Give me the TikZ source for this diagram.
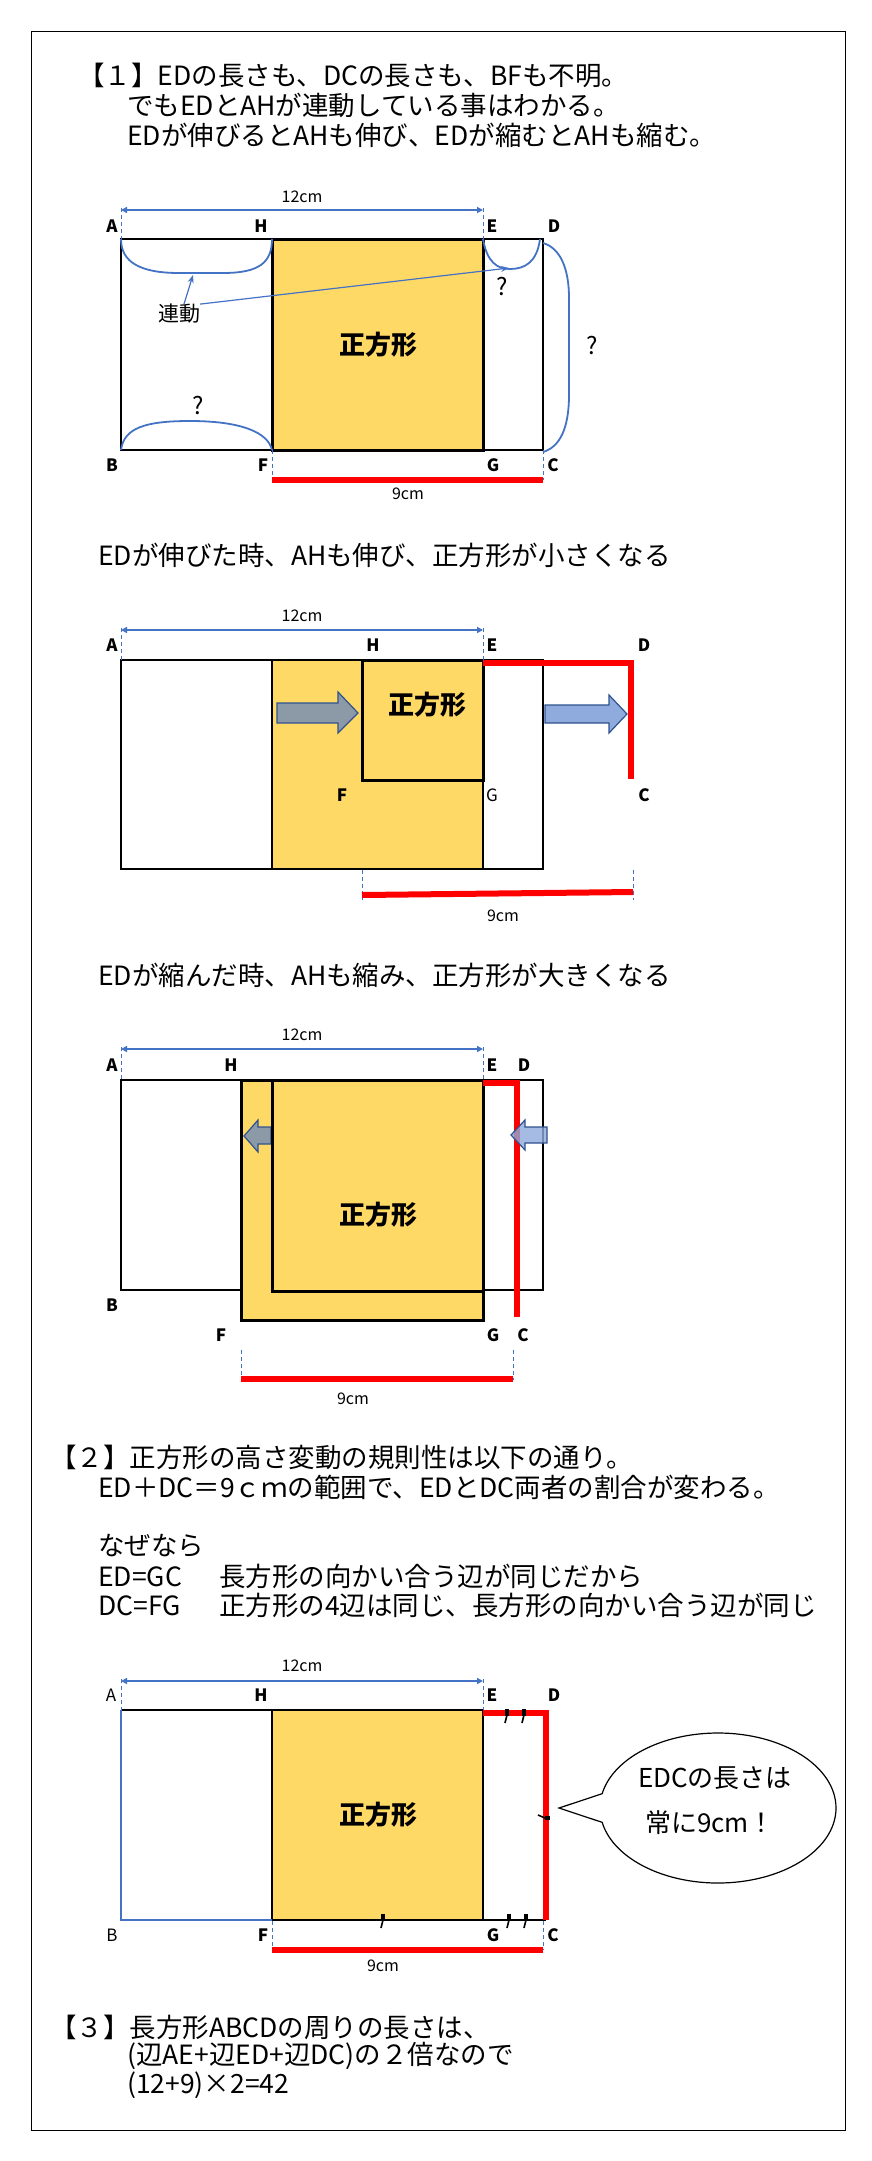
\documentclass[tikz,border=0pt]{standalone}
\usepackage{fontspec}
\setmainfont{Noto Sans CJK JP}
\usetikzlibrary{arrows.meta,shapes.callouts}
\definecolor{blueline}{HTML}{4472C4}
\definecolor{sqyellow}{HTML}{FFD966}
\definecolor{arrowedge}{HTML}{2F528F}
\definecolor{grayfill}{HTML}{8B9AA6}
\definecolor{bluefill}{HTML}{8FAADC}
\begin{document}
\begin{tikzpicture}[x=1pt,y=-1pt,
  txt/.style={anchor=west,inner sep=0pt,font=\fontsize{26.5}{30}\selectfont},
  btxt/.style={inner sep=0pt,font=\fontsize{26}{30}\selectfont},
  lbl/.style={inner sep=0pt,font=\bfseries\fontsize{17}{20}\selectfont},
  lblr/.style={inner sep=0pt,font=\fontsize{17}{20}\selectfont},
  dimtxt/.style={inner sep=0pt,font=\fontsize{16}{18}\selectfont},
  qm/.style={inner sep=0pt,font=\fontsize{24}{26}\selectfont},
  rtxt/.style={inner sep=0pt,font=\fontsize{21}{24}\selectfont},
  sqtxt/.style={inner sep=0pt,font=\bfseries\fontsize{26}{28}\selectfont},
  dimline/.style={draw=blueline,line width=1.8pt,{Triangle[length=6pt,width=6pt]}-{Triangle[length=6pt,width=6pt]}},
  guide/.style={draw=blueline,line width=1pt,dash pattern=on 4pt off 3pt},
  redline/.style={draw=red,line width=6pt},
  rectline/.style={draw=black,line width=2pt},
  sqbox/.style={fill=sqyellow,draw=black,line width=3pt},
  thinsq/.style={fill=sqyellow,draw=black,line width=2pt},
  brace/.style={draw=blueline,line width=1.8pt},
  linkarrow/.style={draw=blueline,line width=1.2pt,-{Stealth[length=8pt,width=6pt]}},
  grayarrow/.style={fill=grayfill,draw=arrowedge,line width=1.2pt},
  bluearrow/.style={fill=bluefill,draw=arrowedge,line width=1.2pt},
  tickhead/.style={draw=black,line width=3.5pt},
  ticktail/.style={draw=black,line width=1.6pt},
]
\useasboundingbox (0,0) rectangle (871,2161);
\fill[white] (0,0) rectangle (871,2161);
\draw[line width=1pt] (31,31) rectangle (845,2130);

% ---------- Section 1 text
\node[txt] (t11) at (78,75) {【１】EDの長さも、DCの長さも、BFも不明。};
\node[txt] (t12) at (127,105) {でもEDとAHが連動している事はわかる。};
\node[txt] (t13) at (127,135) {EDが伸びるとAHも伸び、EDが縮むとAHも縮む。};

% ---------- Diagram 1
\coordinate (A1) at (121,239); \coordinate (B1) at (121,450);
\coordinate (C1) at (543,450); \coordinate (D1) at (543,239);
\coordinate (H1) at (272,239); \coordinate (E1) at (483,239);
\coordinate (F1) at (272,450); \coordinate (G1) at (483,450);
\draw[rectline] (A1) rectangle (C1);
\draw[sqbox] (H1) rectangle (G1);
\node[sqtxt] (sq1) at (378,345) {正方形};
\coordinate (dA1) at (121,208); \coordinate (dE1) at (483,208);
\draw[guide] (dA1) -- (A1); \draw[guide] (dE1) -- (E1);
\draw[dimline] (121,210) coordinate (pA1) -- (483,210) coordinate (pE1);
\node[dimtxt] (cm12a) at (302,197) {12cm};
\coordinate (rF1) at (272,480); \coordinate (rC1) at (543,480);
\draw[guide] (F1) -- (rF1); \draw[guide] (C1) -- (rC1);
\draw[redline] (rF1) -- (rC1);
\node[dimtxt] (cm9a) at (408,494) {9cm};
\node[lbl] (lA1) at (112,226) {A}; \node[lbl] (lH1) at (261,226) {H};
\node[lbl] (lE1) at (492,226) {E}; \node[lbl] (lD1) at (554,226) {D};
\node[lbl] (lB1) at (112,465) {B}; \node[lbl] (lF1) at (263,465) {F};
\node[lbl] (lG1) at (493,465) {G}; \node[lbl] (lC1) at (553,465) {C};
% braces
\draw[brace] (A1) .. controls (121,262) and (140,273) .. (179,273) -- (223,273) .. controls (260,273) and (272,262) .. (H1);
\draw[brace] (E1) .. controls (487,262) and (497,269) .. (510,269) .. controls (525,269) and (537,262) .. (540,239);
\draw[brace] (543,243) .. controls (560,248) and (569,268) .. (569,298) -- (569,395) .. controls (569,428) and (560,447) .. (543,452);
\draw[brace] (B1) .. controls (124,428) and (145,421) .. (190,421) .. controls (240,421) and (268,432) .. (F1);
\node[qm] (q1) at (502,287) {?};
\node[qm] (q2) at (592,346) {?};
\node[qm] (q3) at (198,406) {?};
\node[rtxt] (rendo) at (179,314) {連動};
\coordinate (bl1) at (193,275); \coordinate (br1) at (509,268);
\draw[linkarrow] (rendo.north) ++(5,0) coordinate (ra) (ra) -- (bl1);
\draw[linkarrow] (rendo.north east) -- (br1);

% ---------- Diagram 2
\node[txt] (t2) at (98,555) {EDが伸びた時、AHも伸び、正方形が小さくなる};
\coordinate (A2) at (121,660); \coordinate (C2) at (543,869);
\draw[rectline] (A2) rectangle (C2);
\draw[thinsq] (272,660) rectangle (483,869);
\coordinate (H2) at (362,660); \coordinate (G2) at (483,780);
\draw[sqbox] (H2) rectangle (G2);
\node[sqtxt] (sq2) at (427,705) {正方形};
\coordinate (E2) at (483,663); \coordinate (D2) at (631,663); \coordinate (Cc2) at (631,779);
\draw[redline] (E2) -- (D2) -- (Cc2);
\draw[grayarrow] (277,703) -- (338,703) -- (338,692) -- (358,713) -- (338,733) -- (338,723) -- (277,723) -- cycle;
\draw[bluearrow] (545,705) -- (609,705) -- (609,695) -- (627,714) -- (609,733) -- (609,723) -- (545,723) -- cycle;
\coordinate (dA2) at (121,628); \coordinate (dE2) at (483,628);
\draw[guide] (dA2) -- (121,660); \draw[guide] (dE2) -- (483,660);
\draw[dimline] (121,630) coordinate (pA2) -- (483,630) coordinate (pE2);
\node[dimtxt] (cm12b) at (302,616) {12cm};
\node[lbl] (lA2) at (112,645) {A}; \node[lbl] (lH2) at (373,645) {H};
\node[lbl] (lE2) at (492,645) {E}; \node[lbl] (lD2) at (644,645) {D};
\node[lbl] (lF2) at (342,795) {F}; \node[lblr] (lG2) at (492,795) {G};
\node[lbl] (lC2) at (644,795) {C};
\coordinate (gF2) at (362,870); \coordinate (rF2) at (362,900);
\coordinate (gC2) at (633,870); \coordinate (rC2) at (633,900);
\draw[guide] (gF2) -- (rF2); \draw[guide] (gC2) -- (rC2);
\draw[redline] (362,895) coordinate (rl2a) -- (633,892) coordinate (rl2b);
\node[dimtxt] (cm9b) at (503,916) {9cm};

% ---------- Diagram 3
\node[txt] (t3) at (98,975) {EDが縮んだ時、AHも縮み、正方形が大きくなる};
\coordinate (A3) at (121,1080); \coordinate (C3) at (543,1290);
\draw[rectline] (A3) rectangle (C3);
\draw[sqbox] (241,1080) rectangle (483,1320);
\draw[grayarrow] (271,1127) -- (258,1127) -- (258,1120) -- (244,1136) -- (258,1152) -- (258,1144) -- (271,1144) -- cycle;
\draw[draw=black,line width=3pt] (272,1080) rectangle (483,1291);
\node[sqtxt] (sq3) at (378,1215) {正方形};
\coordinate (E3) at (483,1083); \coordinate (D3) at (517,1083); \coordinate (Cc3) at (517,1317);
\draw[redline] (E3) -- (D3) -- (Cc3);
\draw[bluearrow,fill opacity=0.8] (547,1127) -- (525,1127) -- (525,1120) -- (511,1135) -- (525,1150) -- (525,1143) -- (547,1143) -- cycle;
\coordinate (dA3) at (121,1047); \coordinate (dE3) at (483,1047);
\draw[guide] (dA3) -- (A3); \draw[guide] (dE3) -- (483,1080);
\draw[dimline] (121,1049) coordinate (pA3) -- (483,1049) coordinate (pE3);
\node[dimtxt] (cm12c) at (302,1035) {12cm};
\node[lbl] (lA3) at (112,1065) {A}; \node[lbl] (lH3) at (231,1065) {H};
\node[lbl] (lE3) at (492,1065) {E}; \node[lbl] (lD3) at (524,1065) {D};
\node[lbl] (lB3) at (112,1305) {B};
\node[lbl] (lF3) at (221,1335) {F}; \node[lbl] (lG3) at (493,1335) {G};
\node[lbl] (lC3) at (523,1335) {C};
\coordinate (gF3) at (241,1350); \coordinate (rF3) at (241,1380);
\coordinate (gC3) at (513,1350); \coordinate (rC3) at (513,1380);
\draw[guide] (gF3) -- (rF3); \draw[guide] (gC3) -- (rC3);
\draw[redline] (241,1379) coordinate (rl3a) -- (513,1379) coordinate (rl3b);
\node[dimtxt] (cm9c) at (353,1399) {9cm};

% ---------- Section 2 text
\node[txt] (t21) at (50,1457) {【２】正方形の高さ変動の規則性は以下の通り。};
\node[txt] (t22) at (98,1487) {ED＋DC＝9ｃｍの範囲で、EDとDC両者の割合が変わる。};
\node[txt] (t23) at (98,1546) {なぜなら};
\node[txt] (t24) at (98,1576) {\makebox[121pt][l]{ED=GC}長方形の向かい合う辺が同じだから};
\node[txt] (t25) at (98,1605) {\makebox[121pt][l]{DC=FG}正方形の4辺は同じ、長方形の向かい合う辺が同じ};

% ---------- Diagram 4
\coordinate (A4) at (121,1710); \coordinate (B4) at (121,1920);
\coordinate (H4) at (272,1710); \coordinate (E4) at (483,1710);
\coordinate (F4) at (272,1920); \coordinate (G4) at (483,1920);
\coordinate (C4) at (546,1920);
\draw[thinsq] (H4) rectangle (G4);
\draw[draw=black,line width=2pt] (A4) -- (E4);
\draw[draw=black,line width=2pt] (F4) -- (C4);
\draw[draw=blueline,line width=2.5pt] (A4) -- (B4) -- (F4);
\coordinate (E4r) at (483,1713); \coordinate (D4r) at (546,1713);
\draw[redline] (E4r) -- (D4r) -- (C4);
% equal-length tick marks
\draw[tickhead] (507,1709) -- (507,1716); \draw[ticktail] (507,1715) -- (505,1723);
\draw[tickhead] (524,1709) -- (524,1716); \draw[ticktail] (524,1715) -- (522,1723);
\draw[tickhead] (509,1914) -- (509,1921); \draw[ticktail] (509,1920) -- (507,1928);
\draw[tickhead] (526,1914) -- (526,1921); \draw[ticktail] (526,1920) -- (524,1928);
\draw[tickhead] (383,1914) -- (383,1921); \draw[ticktail] (383,1920) -- (381,1928);
\draw[tickhead] (545,1818) -- (550,1818); \draw[ticktail] (545,1818) -- (538,1815);
\node[sqtxt] (sq4) at (378,1815) {正方形};
\coordinate (dA4) at (121,1679); \coordinate (dE4) at (483,1679);
\draw[guide] (dA4) -- (A4); \draw[guide] (dE4) -- (E4);
\draw[dimline] (121,1681) coordinate (pA4) -- (483,1681) coordinate (pE4);
\node[dimtxt] (cm12d) at (302,1666) {12cm};
\node[lblr] (lA4) at (111,1695) {A}; \node[lbl] (lH4) at (261,1695) {H};
\node[lbl] (lE4) at (492,1695) {E}; \node[lbl] (lD4) at (554,1695) {D};
\node[lblr] (lB4) at (112,1935) {B}; \node[lbl] (lF4) at (263,1935) {F};
\node[lbl] (lG4) at (493,1935) {G}; \node[lbl] (lC4) at (553,1935) {C};
\coordinate (gF4) at (272,1921); \coordinate (rF4) at (272,1950);
\coordinate (gC4) at (543,1921); \coordinate (rC4) at (543,1950);
\draw[guide] (gF4) -- (rF4); \draw[guide] (gC4) -- (rC4);
\draw[redline] (rF4) -- (rC4);
\node[dimtxt] (cm9d) at (383,1966) {9cm};
\node[ellipse callout,draw=black,fill=white,line width=1.2pt,minimum width=236pt,minimum height=150pt,callout absolute pointer={(559,1808)},callout pointer arc=22] (bubble) at (718,1808) {};
\node[btxt] (bt1) at (715,1778) {EDCの長さは};
\node[btxt] (bt2) at (710,1823) {常に9cm！};

% ---------- Section 3 text
\node[txt] (t31) at (50,2027) {【３】長方形ABCDの周りの長さは、};
\node[txt] (t32) at (127,2056) {(辺AE+辺ED+辺DC)の２倍なので};
\node[txt] (t33) at (127,2085) {(12+9)×2=42};
\end{tikzpicture}
\end{document}
